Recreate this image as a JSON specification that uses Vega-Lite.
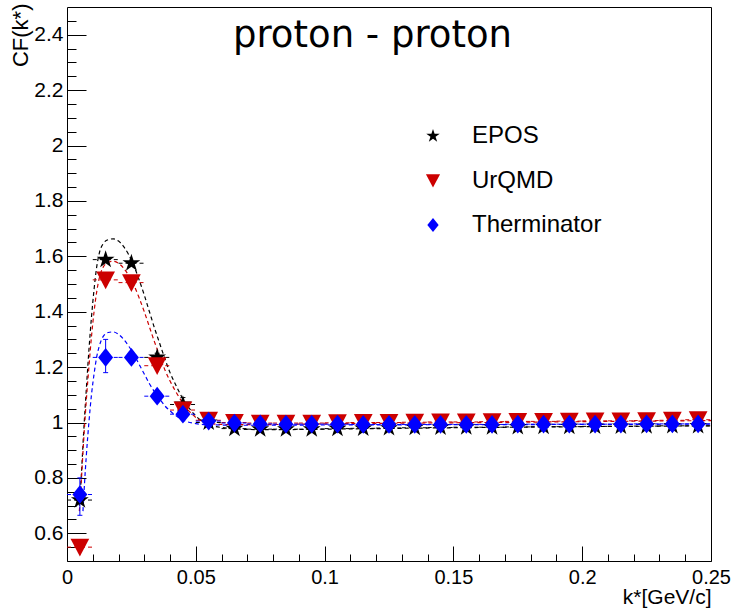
{
  "$schema": "https://vega.github.io/schema/vega-lite/v6.json",
  "width": 644,
  "height": 554,
  "autosize": {"type": "none"},
  "padding": {"left": 67, "top": 7, "right": 24, "bottom": 51},
  "background": "white",
  "config": {
    "view": {"stroke": "black", "strokeWidth": 1},
    "axis": {"labelFont": "Liberation Sans", "titleFont": "Liberation Sans", "labelColor": "black", "titleColor": "black", "tickColor": "black", "domain": false, "grid": false, "titleFontWeight": "normal"}
  },
  "datasets": {
    "pts": [
      {"s":"EPOS","x":0.005,"y":0.72,"xlo":0.0,"xhi":0.01},
      {"s":"EPOS","x":0.015,"y":1.588,"xlo":0.01,"xhi":0.02},
      {"s":"EPOS","x":0.025,"y":1.575,"xlo":0.02,"xhi":0.03},
      {"s":"EPOS","x":0.035,"y":1.235,"xlo":0.03,"xhi":0.04},
      {"s":"EPOS","x":0.045,"y":1.065,"xlo":0.04,"xhi":0.05},
      {"s":"EPOS","x":0.055,"y":1.0,"xlo":0.05,"xhi":0.06},
      {"s":"EPOS","x":0.065,"y":0.978,"xlo":0.06,"xhi":0.07},
      {"s":"EPOS","x":0.075,"y":0.976,"xlo":0.07,"xhi":0.08},
      {"s":"EPOS","x":0.085,"y":0.976,"xlo":0.08,"xhi":0.09},
      {"s":"EPOS","x":0.095,"y":0.976,"xlo":0.09,"xhi":0.1},
      {"s":"EPOS","x":0.105,"y":0.978,"xlo":0.1,"xhi":0.11},
      {"s":"EPOS","x":0.115,"y":0.979,"xlo":0.11,"xhi":0.12},
      {"s":"EPOS","x":0.125,"y":0.98,"xlo":0.12,"xhi":0.13},
      {"s":"EPOS","x":0.135,"y":0.981,"xlo":0.13,"xhi":0.14},
      {"s":"EPOS","x":0.145,"y":0.982,"xlo":0.14,"xhi":0.15},
      {"s":"EPOS","x":0.155,"y":0.983,"xlo":0.15,"xhi":0.16},
      {"s":"EPOS","x":0.165,"y":0.983,"xlo":0.16,"xhi":0.17},
      {"s":"EPOS","x":0.175,"y":0.984,"xlo":0.17,"xhi":0.18},
      {"s":"EPOS","x":0.185,"y":0.985,"xlo":0.18,"xhi":0.19},
      {"s":"EPOS","x":0.195,"y":0.985,"xlo":0.19,"xhi":0.2},
      {"s":"EPOS","x":0.205,"y":0.986,"xlo":0.2,"xhi":0.21},
      {"s":"EPOS","x":0.215,"y":0.986,"xlo":0.21,"xhi":0.22},
      {"s":"EPOS","x":0.225,"y":0.987,"xlo":0.22,"xhi":0.23},
      {"s":"EPOS","x":0.235,"y":0.988,"xlo":0.23,"xhi":0.24},
      {"s":"EPOS","x":0.245,"y":0.988,"xlo":0.24,"xhi":0.25},
      {"s":"UrQMD","x":0.005,"y":0.55,"xlo":0.0,"xhi":0.01},
      {"s":"UrQMD","x":0.015,"y":1.515,"xlo":0.01,"xhi":0.02},
      {"s":"UrQMD","x":0.025,"y":1.505,"xlo":0.02,"xhi":0.03},
      {"s":"UrQMD","x":0.035,"y":1.205,"xlo":0.03,"xhi":0.04},
      {"s":"UrQMD","x":0.045,"y":1.045,"xlo":0.04,"xhi":0.05},
      {"s":"UrQMD","x":0.055,"y":1.008,"xlo":0.05,"xhi":0.06},
      {"s":"UrQMD","x":0.065,"y":1.0,"xlo":0.06,"xhi":0.07},
      {"s":"UrQMD","x":0.075,"y":0.998,"xlo":0.07,"xhi":0.08},
      {"s":"UrQMD","x":0.085,"y":0.998,"xlo":0.08,"xhi":0.09},
      {"s":"UrQMD","x":0.095,"y":0.998,"xlo":0.09,"xhi":0.1},
      {"s":"UrQMD","x":0.105,"y":0.999,"xlo":0.1,"xhi":0.11},
      {"s":"UrQMD","x":0.115,"y":1.0,"xlo":0.11,"xhi":0.12},
      {"s":"UrQMD","x":0.125,"y":1.0,"xlo":0.12,"xhi":0.13},
      {"s":"UrQMD","x":0.135,"y":1.001,"xlo":0.13,"xhi":0.14},
      {"s":"UrQMD","x":0.145,"y":1.002,"xlo":0.14,"xhi":0.15},
      {"s":"UrQMD","x":0.155,"y":1.002,"xlo":0.15,"xhi":0.16},
      {"s":"UrQMD","x":0.165,"y":1.003,"xlo":0.16,"xhi":0.17},
      {"s":"UrQMD","x":0.175,"y":1.004,"xlo":0.17,"xhi":0.18},
      {"s":"UrQMD","x":0.185,"y":1.004,"xlo":0.18,"xhi":0.19},
      {"s":"UrQMD","x":0.195,"y":1.005,"xlo":0.19,"xhi":0.2},
      {"s":"UrQMD","x":0.205,"y":1.006,"xlo":0.2,"xhi":0.21},
      {"s":"UrQMD","x":0.215,"y":1.006,"xlo":0.21,"xhi":0.22},
      {"s":"UrQMD","x":0.225,"y":1.007,"xlo":0.22,"xhi":0.23},
      {"s":"UrQMD","x":0.235,"y":1.008,"xlo":0.23,"xhi":0.24},
      {"s":"UrQMD","x":0.245,"y":1.01,"xlo":0.24,"xhi":0.25},
      {"s":"Therminator","x":0.005,"y":0.74,"xlo":0.0,"xhi":0.01},
      {"s":"Therminator","x":0.015,"y":1.235,"xlo":0.01,"xhi":0.02},
      {"s":"Therminator","x":0.025,"y":1.235,"xlo":0.02,"xhi":0.03},
      {"s":"Therminator","x":0.035,"y":1.095,"xlo":0.03,"xhi":0.04},
      {"s":"Therminator","x":0.045,"y":1.03,"xlo":0.04,"xhi":0.05},
      {"s":"Therminator","x":0.055,"y":1.005,"xlo":0.05,"xhi":0.06},
      {"s":"Therminator","x":0.065,"y":0.998,"xlo":0.06,"xhi":0.07},
      {"s":"Therminator","x":0.075,"y":0.995,"xlo":0.07,"xhi":0.08},
      {"s":"Therminator","x":0.085,"y":0.994,"xlo":0.08,"xhi":0.09},
      {"s":"Therminator","x":0.095,"y":0.994,"xlo":0.09,"xhi":0.1},
      {"s":"Therminator","x":0.105,"y":0.994,"xlo":0.1,"xhi":0.11},
      {"s":"Therminator","x":0.115,"y":0.993,"xlo":0.11,"xhi":0.12},
      {"s":"Therminator","x":0.125,"y":0.993,"xlo":0.12,"xhi":0.13},
      {"s":"Therminator","x":0.135,"y":0.993,"xlo":0.13,"xhi":0.14},
      {"s":"Therminator","x":0.145,"y":0.993,"xlo":0.14,"xhi":0.15},
      {"s":"Therminator","x":0.155,"y":0.993,"xlo":0.15,"xhi":0.16},
      {"s":"Therminator","x":0.165,"y":0.993,"xlo":0.16,"xhi":0.17},
      {"s":"Therminator","x":0.175,"y":0.994,"xlo":0.17,"xhi":0.18},
      {"s":"Therminator","x":0.185,"y":0.994,"xlo":0.18,"xhi":0.19},
      {"s":"Therminator","x":0.195,"y":0.994,"xlo":0.19,"xhi":0.2},
      {"s":"Therminator","x":0.205,"y":0.994,"xlo":0.2,"xhi":0.21},
      {"s":"Therminator","x":0.215,"y":0.994,"xlo":0.21,"xhi":0.22},
      {"s":"Therminator","x":0.225,"y":0.995,"xlo":0.22,"xhi":0.23},
      {"s":"Therminator","x":0.235,"y":0.995,"xlo":0.23,"xhi":0.24},
      {"s":"Therminator","x":0.245,"y":0.995,"xlo":0.24,"xhi":0.25}
    ],
    "yerr": [
      {"s":"EPOS","x":0.035,"ylo":1.22,"yhi":1.25},
      {"s":"EPOS","x":0.045,"ylo":1.04,"yhi":1.09},
      {"s":"Therminator","x":0.005,"ylo":0.665,"yhi":0.8},
      {"s":"Therminator","x":0.015,"ylo":1.18,"yhi":1.3},
      {"s":"Therminator","x":0.025,"ylo":1.215,"yhi":1.255}
    ],
    "curves": [
      {"s":"EPOS","x":0.0048,"y":0.70},{"s":"EPOS","x":0.0055,"y":0.80},{"s":"EPOS","x":0.0065,"y":0.97},{"s":"EPOS","x":0.0075,"y":1.12},{"s":"EPOS","x":0.0085,"y":1.26},{"s":"EPOS","x":0.0095,"y":1.38},{"s":"EPOS","x":0.0105,"y":1.48},{"s":"EPOS","x":0.0115,"y":1.56},{"s":"EPOS","x":0.0125,"y":1.61},{"s":"EPOS","x":0.014,"y":1.645},{"s":"EPOS","x":0.016,"y":1.66},{"s":"EPOS","x":0.018,"y":1.663},{"s":"EPOS","x":0.02,"y":1.655},{"s":"EPOS","x":0.022,"y":1.635},{"s":"EPOS","x":0.024,"y":1.605},{"s":"EPOS","x":0.026,"y":1.565},{"s":"EPOS","x":0.028,"y":1.515},{"s":"EPOS","x":0.03,"y":1.46},{"s":"EPOS","x":0.032,"y":1.4},{"s":"EPOS","x":0.034,"y":1.34},{"s":"EPOS","x":0.036,"y":1.285},{"s":"EPOS","x":0.038,"y":1.23},{"s":"EPOS","x":0.04,"y":1.18},{"s":"EPOS","x":0.042,"y":1.14},{"s":"EPOS","x":0.045,"y":1.085},{"s":"EPOS","x":0.048,"y":1.045},{"s":"EPOS","x":0.051,"y":1.015},{"s":"EPOS","x":0.055,"y":0.993},{"s":"EPOS","x":0.06,"y":0.982},{"s":"EPOS","x":0.07,"y":0.975},{"s":"EPOS","x":0.08,"y":0.974},{"s":"EPOS","x":0.1,"y":0.976},{"s":"EPOS","x":0.15,"y":0.981},{"s":"EPOS","x":0.2,"y":0.985},{"s":"EPOS","x":0.25,"y":0.988},
      {"s":"UrQMD","x":0.0048,"y":0.68},{"s":"UrQMD","x":0.0055,"y":0.78},{"s":"UrQMD","x":0.0065,"y":0.94},{"s":"UrQMD","x":0.0075,"y":1.08},{"s":"UrQMD","x":0.0085,"y":1.2},{"s":"UrQMD","x":0.0095,"y":1.31},{"s":"UrQMD","x":0.0105,"y":1.4},{"s":"UrQMD","x":0.0115,"y":1.47},{"s":"UrQMD","x":0.0125,"y":1.52},{"s":"UrQMD","x":0.014,"y":1.56},{"s":"UrQMD","x":0.016,"y":1.578},{"s":"UrQMD","x":0.018,"y":1.582},{"s":"UrQMD","x":0.02,"y":1.575},{"s":"UrQMD","x":0.022,"y":1.557},{"s":"UrQMD","x":0.024,"y":1.53},{"s":"UrQMD","x":0.026,"y":1.495},{"s":"UrQMD","x":0.028,"y":1.45},{"s":"UrQMD","x":0.03,"y":1.4},{"s":"UrQMD","x":0.032,"y":1.345},{"s":"UrQMD","x":0.034,"y":1.29},{"s":"UrQMD","x":0.036,"y":1.24},{"s":"UrQMD","x":0.038,"y":1.19},{"s":"UrQMD","x":0.04,"y":1.15},{"s":"UrQMD","x":0.042,"y":1.115},{"s":"UrQMD","x":0.045,"y":1.07},{"s":"UrQMD","x":0.048,"y":1.035},{"s":"UrQMD","x":0.051,"y":1.012},{"s":"UrQMD","x":0.055,"y":0.998},{"s":"UrQMD","x":0.06,"y":0.993},{"s":"UrQMD","x":0.07,"y":0.992},{"s":"UrQMD","x":0.1,"y":0.995},{"s":"UrQMD","x":0.15,"y":0.999},{"s":"UrQMD","x":0.2,"y":1.003},{"s":"UrQMD","x":0.25,"y":1.007},
      {"s":"Therminator","x":0.0062,"y":0.68},{"s":"Therminator","x":0.0068,"y":0.78},{"s":"Therminator","x":0.0075,"y":0.88},{"s":"Therminator","x":0.0085,"y":1.0},{"s":"Therminator","x":0.0095,"y":1.1},{"s":"Therminator","x":0.0105,"y":1.175},{"s":"Therminator","x":0.0115,"y":1.235},{"s":"Therminator","x":0.0125,"y":1.275},{"s":"Therminator","x":0.014,"y":1.31},{"s":"Therminator","x":0.016,"y":1.325},{"s":"Therminator","x":0.018,"y":1.327},{"s":"Therminator","x":0.02,"y":1.318},{"s":"Therminator","x":0.022,"y":1.3},{"s":"Therminator","x":0.024,"y":1.275},{"s":"Therminator","x":0.026,"y":1.245},{"s":"Therminator","x":0.028,"y":1.21},{"s":"Therminator","x":0.03,"y":1.175},{"s":"Therminator","x":0.032,"y":1.14},{"s":"Therminator","x":0.034,"y":1.11},{"s":"Therminator","x":0.036,"y":1.085},{"s":"Therminator","x":0.038,"y":1.06},{"s":"Therminator","x":0.04,"y":1.042},{"s":"Therminator","x":0.043,"y":1.02},{"s":"Therminator","x":0.046,"y":1.005},{"s":"Therminator","x":0.05,"y":0.996},{"s":"Therminator","x":0.055,"y":0.992},{"s":"Therminator","x":0.07,"y":0.99},{"s":"Therminator","x":0.1,"y":0.991},{"s":"Therminator","x":0.15,"y":0.992},{"s":"Therminator","x":0.2,"y":0.993},{"s":"Therminator","x":0.25,"y":0.994}
    ],
    "label": [{"t": "proton - proton", "x": 0.1186, "y": 2.357}]
  },
  "resolve": {"axis": {"x": "independent", "y": "independent"}},
  "layer": [
    {
      "data": {"name": "curves"},
      "mark": {"type": "line", "strokeDash": [4, 3], "strokeWidth": 1.2, "interpolate": "monotone", "clip": true},
      "encoding": {
        "x": {"field": "x", "type": "quantitative", "scale": {"domain": [0, 0.25], "nice": false, "zero": false},
          "axis": {"orient": "bottom", "values": [0.01,0.02,0.03,0.04,0.06,0.07,0.08,0.09,0.11,0.12,0.13,0.14,0.16,0.17,0.18,0.19,0.21,0.22,0.23,0.24], "labels": false, "tickSize": -7, "title": null}},
        "y": {"field": "y", "type": "quantitative", "scale": {"domain": [0.5, 2.5], "nice": false, "zero": false},
          "axis": {"orient": "left", "values": [0.55,0.65,0.7,0.75,0.85,0.9,0.95,1.05,1.1,1.15,1.25,1.3,1.35,1.45,1.5,1.55,1.65,1.7,1.75,1.85,1.9,1.95,2.05,2.1,2.15,2.25,2.3,2.35,2.45], "labels": false, "tickSize": -9, "title": null}},
        "stroke": {"field": "s", "type": "nominal", "scale": {"domain": ["Therminator","UrQMD","EPOS"], "range": ["#0000ff","#cc0000","#000000"]}, "legend": null},
        "detail": {"field": "s"}
      }
    },
    {
      "mark": {"type": "rule", "color": "black", "strokeWidth": 1},
      "encoding": {"y": {"datum": 1, "type": "quantitative", "axis": null}}
    },
    {
      "data": {"name": "pts"},
      "mark": {"type": "rule", "strokeDash": [4, 3], "strokeWidth": 1},
      "encoding": {
        "x": {"field": "xlo", "type": "quantitative", "axis": null},
        "x2": {"field": "xhi"},
        "y": {"field": "y", "type": "quantitative", "axis": null},
        "stroke": {"field": "s", "type": "nominal", "scale": {"domain": ["Therminator","UrQMD","EPOS"], "range": ["#0000ff","#cc0000","#000000"]}, "legend": null}
      }
    },
    {
      "data": {"name": "yerr"},
      "mark": {"type": "rule", "strokeWidth": 1},
      "encoding": {
        "x": {"field": "x", "type": "quantitative", "axis": null},
        "y": {"field": "ylo", "type": "quantitative", "axis": null},
        "y2": {"field": "yhi"},
        "stroke": {"field": "s", "type": "nominal", "scale": {"domain": ["Therminator","UrQMD","EPOS"], "range": ["#0000ff","#cc0000","#000000"]}, "legend": null}
      }
    },
    {
      "data": {"name": "yerr"},
      "mark": {"type": "tick", "orient": "horizontal", "size": 5, "thickness": 1, "opacity": 1},
      "encoding": {
        "x": {"field": "x", "type": "quantitative", "axis": null},
        "y": {"field": "ylo", "type": "quantitative", "axis": null},
        "fill": {"field": "s", "type": "nominal", "scale": {"domain": ["UrQMD","EPOS","Therminator"], "range": ["#cc0000","#000000","#0000ff"]}, "legend": null}
      }
    },
    {
      "data": {"name": "yerr"},
      "mark": {"type": "tick", "orient": "horizontal", "size": 5, "thickness": 1, "opacity": 1},
      "encoding": {
        "x": {"field": "x", "type": "quantitative", "axis": null},
        "y": {"field": "yhi", "type": "quantitative", "axis": null},
        "fill": {"field": "s", "type": "nominal", "scale": {"domain": ["UrQMD","EPOS","Therminator"], "range": ["#cc0000","#000000","#0000ff"]}, "legend": null}
      }
    },
    {
      "data": {"name": "pts"},
      "mark": {"type": "point", "filled": true, "opacity": 1, "size": 350, "strokeWidth": 0},
      "encoding": {
        "x": {"field": "x", "type": "quantitative",
          "axis": {"orient": "bottom", "values": [0, 0.05, 0.1, 0.15, 0.2, 0.25], "format": "~g", "tickSize": -15, "labelFontSize": 20, "labelPadding": 21, "labelFlush": false, "labelOverlap": false,
            "title": "k*[GeV/c]", "titleFontSize": 21, "titleX": 644, "titleY": 36, "titleAlign": "right", "titleBaseline": "middle", "titleAnchor": "end"}},
        "y": {"field": "y", "type": "quantitative",
          "axis": {"orient": "left", "values": [0.6,0.8,1,1.2,1.4,1.6,1.8,2,2.2,2.4], "format": "~g", "tickSize": -19, "labelFontSize": 21, "labelPadding": 23, "labelFlush": false, "labelOverlap": false,
            "title": "CF(k*)", "titleFontSize": 22, "titleAngle": -90, "titleX": -47, "titleY": -4, "titleAlign": "right", "titleBaseline": "middle", "titleAnchor": "end"}},
        "color": {"field": "s", "type": "nominal", "scale": {"domain": ["EPOS","UrQMD","Therminator"], "range": ["#000000","#cc0000","#0000ff"]},
          "legend": {"orient": "none", "legendX": 354, "legendY": 117, "title": null, "labelFont": "Liberation Sans", "labelFontSize": 24, "labelColor": "black", "symbolSize": 200, "rowPadding": 20.5, "labelOffset": 27}},
        "shape": {"field": "s", "type": "nominal", "scale": {"domain": ["EPOS","UrQMD","Therminator"], "range": ["M0,-1L0.225,-0.309L0.951,-0.309L0.363,0.118L0.588,0.809L0,0.382L-0.588,0.809L-0.363,0.118L-0.951,-0.309L-0.225,-0.309Z", "M-1,-0.9L1,-0.9L0,1Z", "M0,-1L0.8,0L0,1L-0.8,0Z"]},
          "legend": {"orient": "none", "legendX": 354, "legendY": 117, "title": null, "labelFont": "Liberation Sans", "labelFontSize": 24, "labelColor": "black", "symbolSize": 200, "rowPadding": 20.5, "labelOffset": 27}}
      }
    },
    {
      "data": {"name": "label"},
      "mark": {"type": "text", "font": "DejaVu Sans", "fontSize": 37, "align": "center", "baseline": "alphabetic", "color": "black"},
      "encoding": {
        "x": {"field": "x", "type": "quantitative", "axis": null},
        "y": {"field": "y", "type": "quantitative", "axis": null},
        "text": {"field": "t"}
      }
    }
  ]
}
